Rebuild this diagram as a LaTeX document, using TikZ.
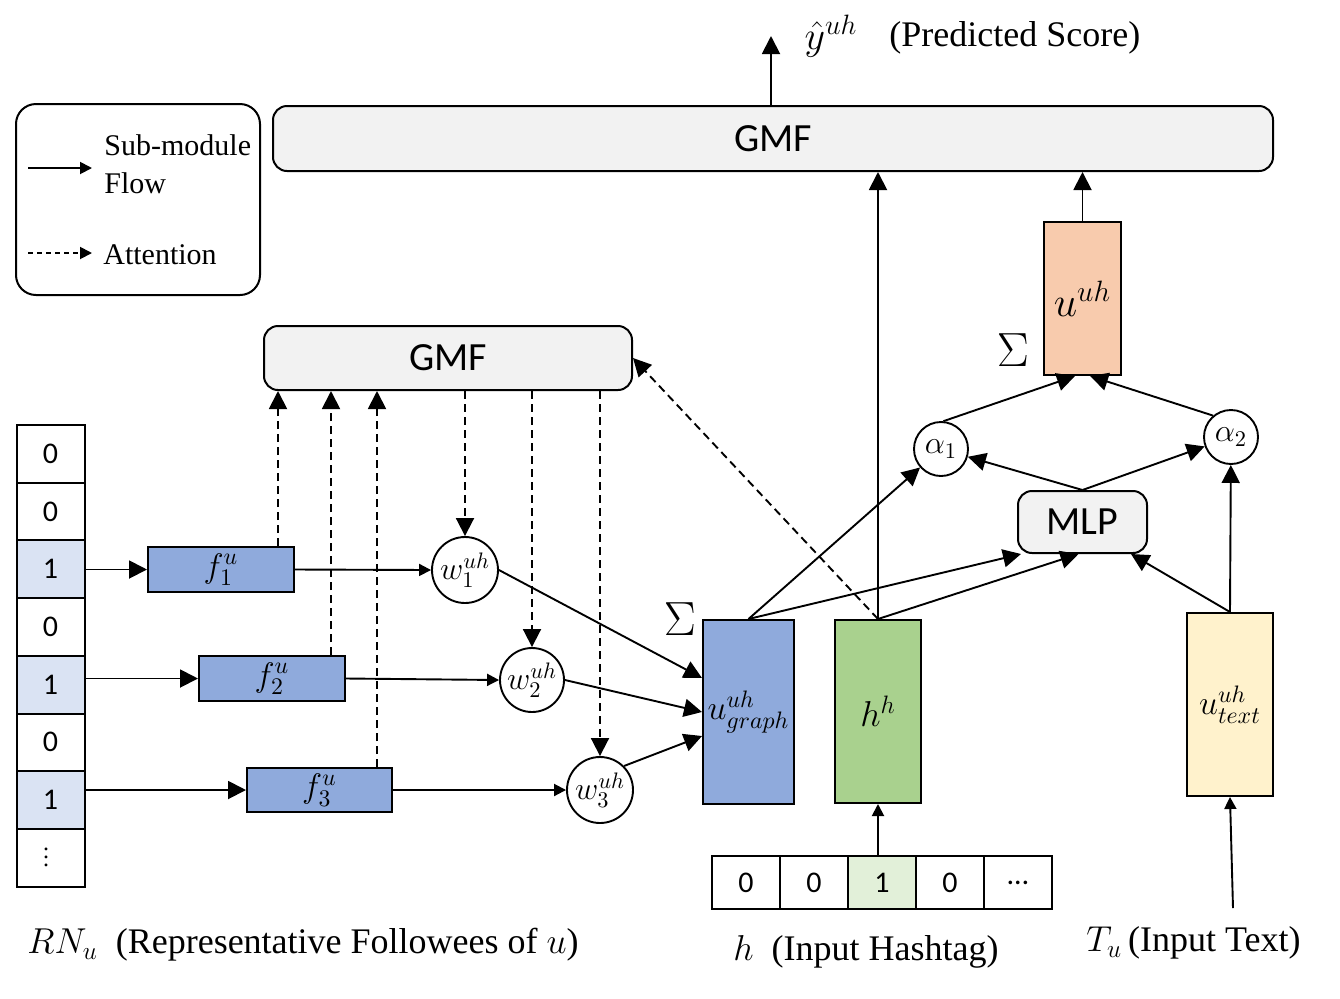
\RequirePackage{fix-cm}
\documentclass[tikz,border=0pt]{standalone}
\usepackage{fontspec}
\setmainfont{Liberation Serif}
\newfontfamily\calibrifont{Carlito}
\usetikzlibrary{arrows.meta}
\definecolor{gmfgray}{HTML}{F2F2F2}
\definecolor{fblue}{HTML}{8FAADC}
\definecolor{cellblue}{HTML}{DAE3F3}
\definecolor{hgreen}{HTML}{A9D18E}
\definecolor{cellgreen}{HTML}{E2F0D9}
\definecolor{textyellow}{HTML}{FFF2CC}
\definecolor{uorange}{HTML}{F8CBAD}
\tikzset{
  bigtip/.style={-{Triangle[length=9pt,width=9pt]}},
  smalltip/.style={-{Triangle[length=6pt,width=6pt]}},
  conn/.style={line width=0.95pt},
  att/.style={line width=0.95pt, dash pattern=on 4pt off 2.5pt},
  box/.style={draw, line width=1pt, inner sep=0pt},
  gbox/.style={box, rounded corners=7pt, fill=gmfgray, font=\calibrifont\fontsize{20}{24}\selectfont},
  cell/.style={box, minimum width=34pt, minimum height=28.85pt, font=\calibrifont\fontsize{15}{18}\selectfont},
  hcell/.style={box, minimum width=34pt, minimum height=26.5pt, font=\calibrifont\fontsize{15}{18}\selectfont},
  circ/.style={draw, circle, line width=0.95pt, inner sep=0pt},
  legtext/.style={inner sep=0pt, font=\fontsize{15}{18}\selectfont},
  lbl/.style={inner sep=0pt, font=\fontsize{18}{22}\selectfont},
  mth/.style={font=\fontsize{17}{20}\selectfont},
}
\begin{document}
\begin{tikzpicture}[x=0.5pt,y=-0.5pt]
\useasboundingbox (0,0) rectangle (1340,998);

% legend
\node[box, rounded corners=10pt, minimum width=122pt, minimum height=95.5pt] (legend) at (138,199.5) {};
\coordinate (lg1) at (28,168); \coordinate (lg2) at (92,168);
\coordinate (lg3) at (28,253); \coordinate (lg4) at (92,253);
\draw[conn,smalltip] (lg1) -- (lg2);
\draw[att,dash pattern=on 2.5pt off 2pt,smalltip] (lg3) -- (lg4);
\node[legtext, anchor=west] (lgt1) at (104,145) {Sub-module};
\node[legtext, anchor=west] (lgt2) at (104,183) {Flow};
\node[legtext, anchor=west] (lgt3) at (103,255) {Attention};

% top GMF and output
\node[gbox, minimum width=500pt, minimum height=32.5pt] (gmfTop) at (773,138.5) {GMF};
\coordinate (yout) at (771,36);
\draw[conn,bigtip] (gmfTop.north -| yout) -- (yout);
\node[inner sep=0pt, font=\fontsize{20}{24}\selectfont] (yhat) at (831,36) {$\hat{y}^{uh}$};
\node[lbl, anchor=west] (pred) at (889,38) {(Predicted Score)};

% middle GMF
\node[gbox, minimum width=184pt, minimum height=32pt] (gmfMid) at (448,358) {GMF};

% left vector
\foreach \i/\v/\c in {1/0/white,2/0/white,3/1/cellblue,4/0/white,5/1/cellblue,6/0/white,7/1/cellblue}{
  \node[cell, fill=\c] (v\i) at (50.5,{425+57.7*(\i-0.5)}) {\v};
}
\node[cell] (v8) at (50.5,{425+57.7*7.5}) {};
\node[inner sep=0pt, font=\fontsize{12}{14}\selectfont] (vdots) at (46,851) {$\vdots$};

% f boxes
\node[box, fill=fblue, minimum width=73pt, minimum height=22.5pt, mth] (f1) at (221,569.5) {$f_1^u$};
\node[box, fill=fblue, minimum width=73pt, minimum height=22.5pt, mth] (f2) at (272,678.5) {$f_2^u$};
\node[box, fill=fblue, minimum width=72.5pt, minimum height=22pt, mth] (f3) at (319.5,790) {$f_3^u$};

\draw[conn,bigtip] (v3.east |- f1.west) -- (f1.west);
\draw[conn,bigtip] (v5.east |- f2.west) -- (f2.west);
\draw[conn,bigtip] (v7.east |- f3.west) -- (f3.west);

% w circles
\node[circ, minimum size=33pt, font=\fontsize{16}{19}\selectfont] (w1) at (465,570) {$w_1^{uh}$};
\node[circ, minimum size=32pt, font=\fontsize{16}{19}\selectfont] (w2) at (532,680) {$w_2^{uh}$};
\node[circ, minimum size=33pt, font=\fontsize{16}{19}\selectfont] (w3) at (600,790) {$w_3^{uh}$};

\draw[conn,smalltip] (f1.east) -- (w1.west);
\draw[conn,smalltip] (f2.east) -- (w2.west);
\draw[conn,smalltip] (f3.east) -- (w3.west);

% attention dashed lines
\coordinate (d1) at (278,0); \coordinate (d2) at (331,0); \coordinate (d3) at (377,0);
\draw[att,bigtip] (d1 |- f1.north) -- (d1 |- gmfMid.south);
\draw[att,bigtip] (d2 |- f2.north) -- (d2 |- gmfMid.south);
\draw[att,bigtip] (d3 |- f3.north) -- (d3 |- gmfMid.south);
\draw[att,bigtip] (w1.north |- gmfMid.south) -- (w1.north);
\draw[att,bigtip] (w2.north |- gmfMid.south) -- (w2.north);
\draw[att,bigtip] (w3.north |- gmfMid.south) -- (w3.north);

% u graph
\node[box, fill=fblue, minimum width=45.5pt, minimum height=92pt, font=\fontsize{17}{20}\selectfont] (ugraph) at (748.5,712) {$u_{graph}^{uh}$};
\node[inner sep=0pt, font=\fontsize{24}{28}\selectfont] (sig1) at (680,619) {$\Sigma$};
\draw[conn,bigtip] (w1.east) -- ([yshift=17pt]ugraph.west);
\draw[conn,bigtip] (w2.east) -- (ugraph.west);
\draw[conn,bigtip] (w3.45) -- ([yshift=-12pt]ugraph.west);

% h^h and hashtag vector
\node[box, fill=hgreen, minimum width=43pt, minimum height=91.5pt, font=\fontsize{18}{21}\selectfont] (hh) at (878,711.5) {$h^h$};
\node[hcell] (hc1) at (746,882.5) {0};
\node[hcell] (hc2) at (814,882.5) {0};
\node[hcell, fill=cellgreen] (hc3) at (882,882.5) {1};
\node[hcell] (hc4) at (950,882.5) {0};
\node[hcell] (hc5) at (1018,882.5) {…};
\draw[conn,smalltip] (hc3.north -| hh.south) -- (hh.south);

% u text
\node[box, fill=textyellow, minimum width=43pt, minimum height=91.5pt, font=\fontsize{17}{20}\selectfont] (utext) at (1230,704.5) {$u_{text}^{uh}$};
\coordinate (tin) at (1233,908);
\draw[conn,smalltip] (tin) -- (utext.south);

% MLP, alphas, u^uh
\node[gbox, minimum width=64.5pt, minimum height=31pt] (mlp) at (1082.5,522) {MLP};
\node[circ, minimum size=27pt, font=\fontsize{16}{19}\selectfont] (a1) at (941,449) {$\alpha_1$};
\node[circ, minimum size=27pt, font=\fontsize{16}{19}\selectfont] (a2) at (1231,437) {$\alpha_2$};
\node[box, fill=uorange, minimum width=38.5pt, minimum height=76.5pt, font=\fontsize{21}{25}\selectfont] (uuh) at (1082.5,298.5) {$u^{uh}$};
\node[inner sep=0pt, font=\fontsize{24}{28}\selectfont] (sig2) at (1013,350) {$\Sigma$};

\draw[conn,bigtip] (ugraph.north) -- (a1);
\draw[conn,bigtip] (ugraph.north) -- ([xshift=2pt]mlp.south west);
\draw[conn,bigtip] (hh.north) -- ([xshift=-2pt]mlp.south);
\draw[conn,bigtip] (hh.north) -- (hh.north |- gmfTop.south);
\draw[att,bigtip] (hh.north) -- (gmfMid.east);
\draw[conn,bigtip] (utext.north) -- ([xshift=-8.5pt]mlp.south east);
\draw[conn,bigtip] (utext.north) -- (a2);
\draw[conn,bigtip] (mlp.north) -- (a1);
\draw[conn,bigtip] (mlp.north) -- (a2);
\draw[conn,bigtip] (a1.85) -- ([xshift=-3.75pt]uuh.south);
\draw[conn,bigtip] (a2.130) -- ([xshift=3.75pt]uuh.south);
\draw[conn,bigtip] (uuh.north) -- (uuh.north |- gmfTop.south);

% bottom labels
\node[lbl, anchor=west] (rn) at (27,945) {$RN_u$\ \ (Representative Followees of $u$)};
\node[lbl, anchor=west] (hl) at (733,952) {$h$\ \ (Input Hashtag)};
\node[lbl, anchor=west] (tl) at (1086,943) {$T_u$\,(Input Text)};
\end{tikzpicture}
\end{document}
